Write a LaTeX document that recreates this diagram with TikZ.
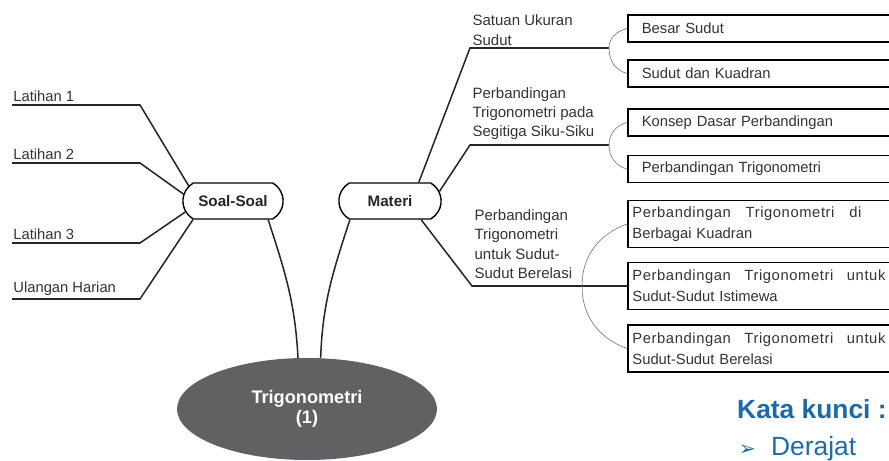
\documentclass[tikz,border=0pt]{standalone}
\usepackage{fontspec}
\setmainfont{Liberation Sans}
\newfontfamily\dejavu{DejaVu Sans}
\usepackage{xcolor}
\usetikzlibrary{shapes.geometric,shapes.misc}
\definecolor{txtgray}{HTML}{333333}
\definecolor{ovalgray}{HTML}{5F6163}
\definecolor{kunciblue}{HTML}{1D6AA8}
\newcommand{\spreadline}[2]{\hbox to #1{\addfontfeature{LetterSpace=4}#2}}

\begin{document}
\begin{tikzpicture}[x=0.03cm,y=0.03cm,
  branch/.style={line width=1.3pt,black!85},
  brace/.style={line width=0.6pt,black!50},
  lbl/.style={anchor=south west,inner xsep=1pt,inner ysep=3pt,text=txtgray,font=\fontsize{12.6}{14}\selectfont},
  sub/.style={anchor=south west,align=left,inner xsep=2pt,inner ysep=4pt,text=txtgray,font=\fontsize{12.8}{16.5}\selectfont},
  topic/.style={rounded rectangle,rounded rectangle arc length=120,draw,line width=1.2pt,minimum height=1.08cm,text=black!85,font=\fontsize{13}{14}\selectfont\bfseries},
  leaf/.style={draw,line width=1.3pt,anchor=west,text width=7.9cm,inner xsep=4pt,align=left,minimum height=0.81cm,text=txtgray,font=\fontsize{12.6}{18}\selectfont},
  leafone/.style={leaf,execute at begin node={\hspace*{8pt}}}
]
\useasboundingbox (0,0) rectangle (889,-461);

\node[ellipse,fill=ovalgray,minimum width=7.8cm,minimum height=3.06cm,inner sep=0,align=center,text=white,font=\fontsize{15.5}{17}\selectfont\bfseries] (trig) at (307,-409) {Trigonometri\\(1)};
\node[topic,minimum width=3.24cm] (soal) at (233,-201) {Soal-Soal};
\node[topic,minimum width=3.3cm] (materi) at (390,-201) {Materi};

\draw[branch] (soal.-28) to[out=-72,in=93] (trig.100);
\draw[branch] (materi.205) to[out=-108,in=88] (trig.75);

\node[lbl] (lat1) at (12,-105) {Latihan 1};
\node[lbl] (lat2) at (12,-163) {Latihan 2};
\node[lbl] (lat3) at (12,-243) {Latihan 3};
\node[lbl] (ulangan) at (12,-299) {Ulangan Harian};
\coordinate (e1) at (140,-105);
\coordinate (e2) at (140,-163);
\coordinate (e3) at (140,-243);
\coordinate (e4) at (140,-299);
\draw[branch] (lat1.south west) -- (e1) -- (soal.161);
\draw[branch] (lat2.south west) -- (e2) -- (soal.172);
\draw[branch] (lat3.south west) -- (e3) -- (soal.193);
\draw[branch] (ulangan.south west) -- (e4) -- (soal.205);

\coordinate (k1) at (470,-48);
\coordinate (k2) at (470,-145);
\coordinate (k3) at (472,-286);
\coordinate (j1) at (609,-48);
\coordinate (j2) at (609,-145);
\coordinate (j3) at (582,-286);
\node[sub,inner ysep=2pt] (satuan) at (k1) {Satuan Ukuran\\Sudut};
\node[sub] (siku) at (k2) {Perbandingan\\Trigonometri pada\\Segitiga Siku-Siku};
\node[sub,inner ysep=6pt] (berelasi) at (k3) {Perbandingan\\Trigonometri\\untuk Sudut-\\Sudut Berelasi};

\node[leafone] (b1) at (627,-28.5) {Besar Sudut};
\node[leafone] (b2) at (627,-73.5) {Sudut dan Kuadran};
\node[leafone] (b3) at (627,-122.5) {Konsep Dasar Perbandingan};
\node[leafone] (b4) at (627,-169) {Perbandingan Trigonometri};
\node[leaf,minimum height=1.41cm] (b5) at (627,-224) {\spreadline{6.87cm}{Perbandingan\hfill Trigonometri\hfill di}\\Berbagai Kuadran};
\node[leaf,minimum height=1.41cm] (b6) at (627,-286) {\spreadline{7.59cm}{Perbandingan\hfill Trigonometri\hfill untuk}\\Sudut-Sudut Istimewa};
\node[leaf,minimum height=1.41cm] (b7) at (627,-348.5) {\spreadline{7.59cm}{Perbandingan\hfill Trigonometri\hfill untuk}\\Sudut-Sudut Berelasi};

\draw[branch] (materi.33) -- (k1) -- (j1);
\draw[branch] (materi.11) -- (k2) -- (j2);
\draw[branch] (materi.-31) -- (k3) -- (b6.west);

\draw[brace] (b1.west) to[out=195,in=90] (j1) to[out=-90,in=165] (b2.west);
\draw[brace] (b3.west) to[out=195,in=90] (j2) to[out=-90,in=165] (b4.west);
\draw[brace] (b5.west) to[out=200,in=90] (j3) to[out=-90,in=160] (b7.west);

\node[anchor=base west,inner sep=0,text=kunciblue,font=\fontsize{22.5}{24}\selectfont\bfseries] (kunci) at (737,-419) {Kata kunci :};
\node[anchor=base west,inner sep=0,text=kunciblue,font=\fontsize{22.5}{24}\selectfont] (derajat) at (739,-456) {{\dejavu\fontsize{17}{18}\selectfont ➢}\hspace{13pt}Derajat};
\end{tikzpicture}
\end{document}
